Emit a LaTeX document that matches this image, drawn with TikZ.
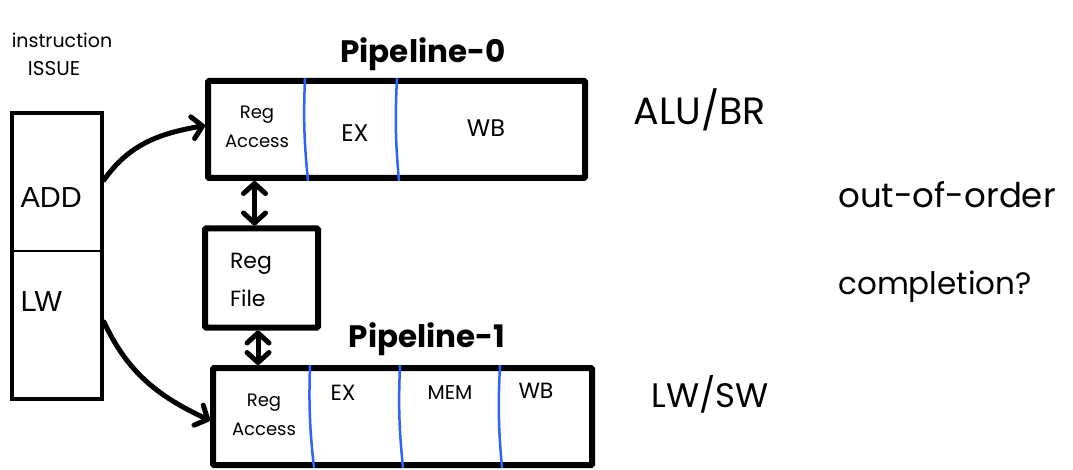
\documentclass[tikz,border=0pt]{standalone}
\usepackage{fontspec}
\setmainfont{Poppins}
\newfontfamily\plainsans{Liberation Sans}
\usetikzlibrary{arrows.meta}
\definecolor{stageblue}{RGB}{45,100,250}
\tikzset{barb/.tip={Straight Barb[length=10pt,width=22pt,line cap=round,line join=round]}}

\begin{document}
\begin{tikzpicture}[x=1pt, y=-1pt,
    box/.style={draw, line width=6pt, rounded corners=1pt, inner sep=0pt},
    stage/.style={draw=stageblue, line width=2.5pt},
    hand/.style={line width=5pt, line cap=round}]

    \useasboundingbox (0,0) rectangle (1073,470);

    % issue queue
    \node[draw, line width=4pt, minimum width=90, minimum height=286, inner sep=0pt] (issue) at (57,256) {};
    \draw[line width=1.5pt] (issue.west |- 0,251) -- (issue.east |- 0,251);
    \node[font=\plainsans\fontsize{29}{29}\selectfont, anchor=west] (add) at (17,198) {ADD};
    \node[font=\plainsans\fontsize{29}{29}\selectfont, anchor=west] (lw) at (17,302) {LW};
    \node[font=\fontsize{19}{19}\selectfont] (instr) at (62,40) {instruction};
    \node[font=\fontsize{20}{20}\selectfont] (iss) at (54,69) {ISSUE};

    % the two pipelines and the register file
    \node[box, minimum width=377, minimum height=97] (pipe0) at (396.5,129.5) {};
    \node[box, minimum width=379, minimum height=97] (pipe1) at (402.5,416.5) {};
    \node[box, minimum width=113, minimum height=99] (regfile) at (261.5,278) {};

    \foreach \a/\b in {100/103,192/194}
      \draw[stage] ([xshift=\a pt]pipe0.north west) to[bend right=4] ([xshift=\b pt]pipe0.south west);
    \foreach \a/\b in {100/104,190/193,290/292}
      \draw[stage] ([xshift=\a pt]pipe1.north west) to[bend right=4] ([xshift=\b pt]pipe1.south west);

    \node[font=\bfseries\fontsize{31}{31}\selectfont] (title0) at (423,54) {Pipeline-0};
    \node[font=\bfseries\fontsize{31}{31}\selectfont] (title1) at (427,339) {Pipeline-1};

    \node[align=center, font=\fontsize{18}{29}\selectfont] (ra0) at (257,127) {Reg\\Access};
    \node[font=\fontsize{24}{24}\selectfont] (ex0) at (355,133) {EX};
    \node[font=\fontsize{24}{24}\selectfont] (wb0) at (486,128) {WB};

    \node[align=center, font=\fontsize{18}{29}\selectfont] (ra1) at (264,415) {Reg\\Access};
    \node[font=\fontsize{22}{22}\selectfont] (ex1) at (343,393) {EX};
    \node[font=\fontsize{20}{20}\selectfont] (mem1) at (450,393) {MEM};
    \node[font=\fontsize{22}{22}\selectfont] (wb1) at (536,391) {WB};

    \node[align=left, font=\fontsize{22}{38}\selectfont] (rftext) at (251,280) {Reg\\File};

    % dispatch arrows
    \draw[hand, -barb] ([yshift=76pt]issue.east) to[out=55, in=190] ([yshift=4pt]pipe0.west);
    \draw[hand, -barb] ([yshift=-66pt]issue.east) to[out=-65, in=155] ([yshift=-4pt]pipe1.west);

    % register file ports
    \draw[hand, barb-barb] ([xshift=-7pt]regfile.north) -- ([xshift=-7pt]regfile.north |- pipe0.south);
    \draw[hand, barb-barb] ([xshift=-3.5pt]regfile.south) -- ([xshift=-3.5pt]regfile.south |- pipe1.north);

    % unit labels and the question
    \node[font=\fontsize{38}{38}\selectfont] (alu) at (700,110) {ALU/BR};
    \node[font=\fontsize{34}{34}\selectfont] (lwsw) at (710,394) {LW/SW};
    \node[font=\fontsize{34}{34}\selectfont] (ooo) at (947,195) {out-of-order};
    \node[font=\fontsize{31}{31}\selectfont] (compl) at (935,287) {completion?};

\end{tikzpicture}
\end{document}
